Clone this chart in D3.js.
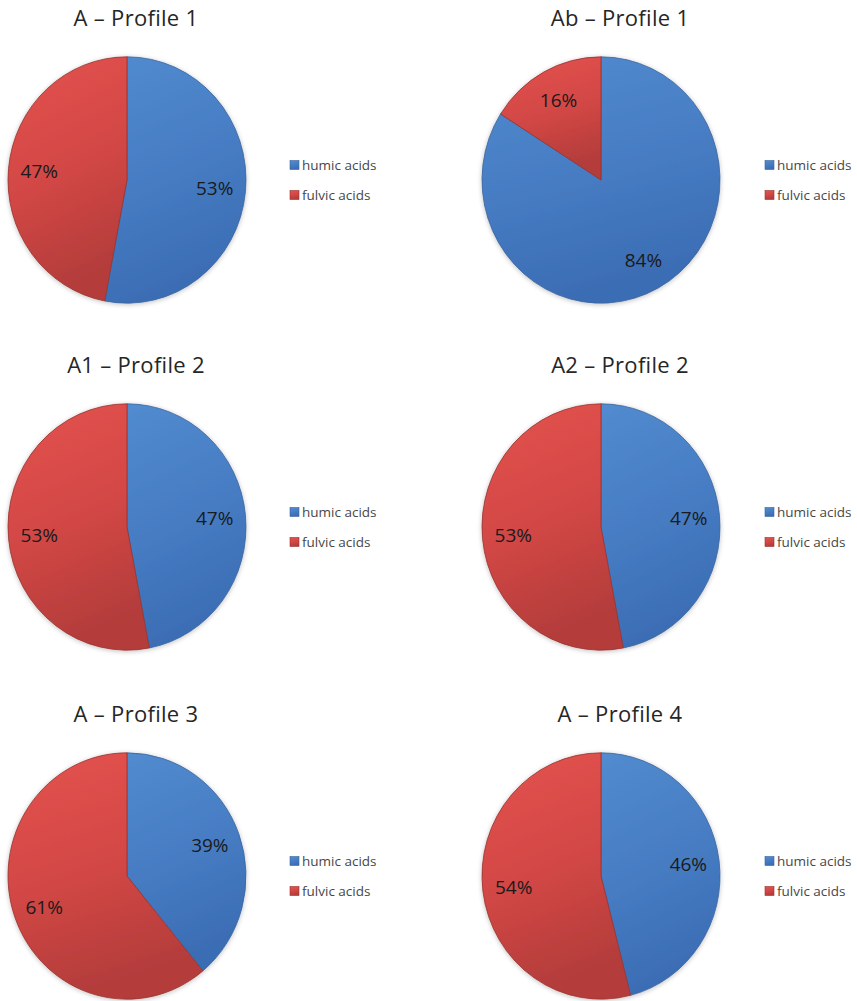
<!DOCTYPE html>
<html>
<head>
<meta charset="utf-8">
<script src="https://cdn.jsdelivr.net/npm/d3@7"></script>
<style>
  html, body { margin: 0; padding: 0; background: #fff; }
  svg { display: block; }
</style>
</head>
<body>
<svg id="chart" width="857" height="1001"></svg>
<script>
// ---- data ----
const panelTitles = ["A – Profile 1", "Ab – Profile 1", "A1 – Profile 2", "A2 – Profile 2", "A – Profile 3", "A – Profile 4"];
const seriesNames = ["humic acids", "fulvic acids"];
const humicValues = [53, 84, 47, 47, 39, 46];
const fulvicValues = [47, 16, 53, 53, 61, 54];

// ---- layout ----
const svg = d3.select("#chart");
const colCx = d3.scaleOrdinal().domain([0, 1]).range([127, 601]);
const rowCy = d3.scaleOrdinal().domain([0, 1, 2]).range([180, 527, 876]);
const titleX = d3.scaleOrdinal().domain([0, 1]).range([136, 620]);
const legendX = d3.scaleOrdinal().domain([0, 1]).range([290, 765]);
const R = 119, yStretch = 1.035;

const color = d3.scaleOrdinal().domain(seriesNames).range(["blue", "red"]);

const defs = svg.append("defs");
function grad(id, c1, c2, c3) {
  const g = defs.append("linearGradient").attr("id", id)
    .attr("x1", 0).attr("y1", 0).attr("x2", 0.25).attr("y2", 1);
  g.append("stop").attr("offset", "0%").attr("stop-color", c1);
  g.append("stop").attr("offset", "55%").attr("stop-color", c2);
  g.append("stop").attr("offset", "100%").attr("stop-color", c3);
}
grad("g-blue", "#528bcf", "#467cc3", "#3b6db4");
grad("g-red", "#e4534f", "#d24745", "#b43d3b");
const stroke = { blue: "#3b659c", red: "#98332f" };

const f = defs.append("filter").attr("id", "shadow").attr("x", "-10%").attr("y", "-10%").attr("width", "120%").attr("height", "120%");
f.append("feGaussianBlur").attr("in", "SourceAlpha").attr("stdDeviation", 2.5).attr("result", "b");
f.append("feOffset").attr("in", "b").attr("dx", 0).attr("dy", 1).attr("result", "o");
f.append("feComponentTransfer").attr("in", "o").attr("result", "s")
  .append("feFuncA").attr("type", "linear").attr("slope", 0.25);
const fm = f.append("feMerge");
fm.append("feMergeNode").attr("in", "s");
fm.append("feMergeNode").attr("in", "SourceGraphic");

const pie = d3.pie().sort(null).value(d => d.value);
const arc = d3.arc().innerRadius(0).outerRadius(R);
const labelArc = d3.arc().innerRadius(R * 0.74).outerRadius(R * 0.74);

panelTitles.forEach((title, i) => {
  const col = i % 2, row = Math.floor(i / 2);
  const cx = colCx(col), cy = rowCy(row);
  const data = [
    { name: seriesNames[0], value: humicValues[i] },
    { name: seriesNames[1], value: fulvicValues[i] }
  ];
  const g = svg.append("g");

  g.append("text")
    .attr("x", titleX(col)).attr("y", cy - 154)
    .attr("text-anchor", "middle")
    .style("font-family", "'Open Sans', sans-serif")
    .style("font-size", "22px")
    .style("letter-spacing", "0.3px")
    .style("fill", "#262626")
    .text(title);

  const pg = g.append("g").attr("transform", `translate(${cx},${cy}) scale(1,${yStretch})`);
  const arcs = pie(data);
  pg.append("g").attr("filter", "url(#shadow)")
    .selectAll("path").data(arcs).join("path")
    .attr("d", arc)
    .attr("fill", d => `url(#g-${color(d.data.name)})`)
    .attr("stroke", d => stroke[color(d.data.name)])
    .attr("stroke-width", 0.8)
    .attr("stroke-linejoin", "round");

  g.selectAll("text.lbl").data(arcs).join("text")
    .attr("class", "lbl")
    .attr("x", d => cx + labelArc.centroid(d)[0])
    .attr("y", d => cy + labelArc.centroid(d)[1] * yStretch)
    .attr("dy", "0.35em")
    .attr("text-anchor", "middle")
    .style("font-family", "'Open Sans', sans-serif")
    .style("font-size", "19px")
    .style("fill", "#1a1a1a")
    .text(d => d.data.value + "%");

  const lg = g.append("g").attr("transform", `translate(${legendX(col)},${cy})`);
  const ly = d3.scalePoint().domain(seriesNames).range([-15, 15]);
  seriesNames.forEach(name => {
    lg.append("rect")
      .attr("x", 0).attr("y", ly(name) - 4.5)
      .attr("width", 9).attr("height", 9)
      .attr("fill", `url(#g-${color(name)})`)
      .attr("stroke", stroke[color(name)]).attr("stroke-width", 0.6);
    lg.append("text")
      .attr("x", 12).attr("y", ly(name))
      .attr("dy", "0.35em")
      .style("font-family", "'Open Sans', sans-serif")
      .style("font-size", "13.5px")
      .style("fill", "#474747")
      .text(name);
  });
});
</script>
</body>
</html>
